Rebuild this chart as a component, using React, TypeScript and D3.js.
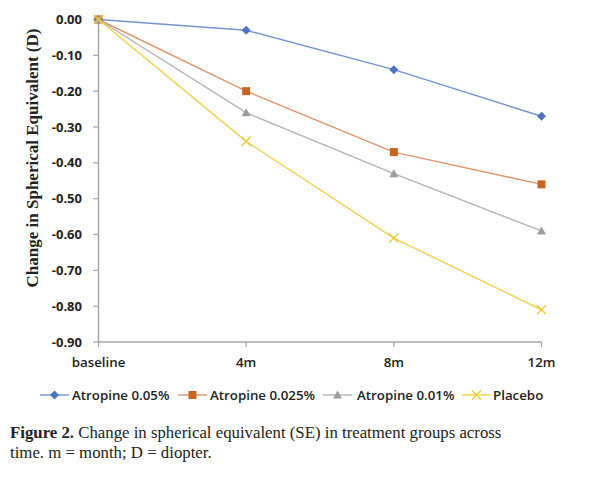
import React from "react";
import * as d3 from "d3";

const categories = ["baseline", "4m", "8m", "12m"];
const seriesNames = ["Atropine 0.05%", "Atropine 0.025%", "Atropine 0.01%", "Placebo"];
const atropine005 = [0, -0.03, -0.14, -0.27];
const atropine0025 = [0, -0.2, -0.37, -0.46];
const atropine001 = [0, -0.26, -0.43, -0.59];
const placebo = [0, -0.34, -0.61, -0.81];
const yTicks = [0, -0.1, -0.2, -0.3, -0.4, -0.5, -0.6, -0.7, -0.8, -0.9];

const lineColors = ["#7194d2", "#e0956a", "#b4b4b4", "#f0d24a"];
const markerColors = ["#4d74c2", "#c8651f", "#9c9c9c", "#ebc934"];
const markerTypes = ["diamond", "square", "triangle", "x"];

function Marker({ type, x, y, color }: { type: string; x: number; y: number; color: string }) {
  if (type === "diamond") {
    const s = 4.5;
    return <path d={`M${x},${y - s}L${x + s},${y}L${x},${y + s}L${x - s},${y}Z`} fill={color} />;
  }
  if (type === "square") {
    const s = 4;
    return <rect x={x - s} y={y - s} width={2 * s} height={2 * s} fill={color} />;
  }
  if (type === "triangle") {
    const s = 4.5;
    return <path d={`M${x},${y - s}L${x + s},${y + s * 0.8}L${x - s},${y + s * 0.8}Z`} fill={color} />;
  }
  const s = 4.5;
  return (
    <path d={`M${x - s},${y - s}L${x + s},${y + s}M${x + s},${y - s}L${x - s},${y + s}`} stroke={color} strokeWidth={1.3} fill="none" />
  );
}

export default function App() {
  const data = [atropine005, atropine0025, atropine001, placebo];
  const x = d3.scalePoint<string>().domain(categories).range([98.5, 541.5]).padding(0);
  const y = d3.scaleLinear().domain([0, -0.9]).range([19.5, 342]);
  const line = d3
    .line<number>()
    .x((_, i) => x(categories[i]) as number)
    .y((d) => y(d));
  const tickFont = "'Open Sans', 'DejaVu Sans', sans-serif";
  const axisColor = "#a6a6a6";

  const legendItems = [
    { lx: 40, tx: 72 },
    { lx: 178, tx: 210 },
    { lx: 323, tx: 357 },
    { lx: 462, tx: 493 },
  ];

  return (
    <svg width={595} height={488} style={{ position: "absolute", left: 0, top: 0, background: "#fff" }}>
      {/* axes */}
      <line x1={x("baseline")} x2={x("baseline")} y1={y(0)} y2={y(-0.9)} stroke={axisColor} strokeWidth={1.5} />
      <line x1={x("baseline")} x2={x("12m")} y1={y(-0.9)} y2={y(-0.9)} stroke={axisColor} strokeWidth={1.5} />
      {yTicks.map((t) => (
        <g key={t}>
          <line x1={93} x2={x("baseline")} y1={y(t)} y2={y(t)} stroke={axisColor} strokeWidth={1.2} />
          <text
            x={82}
            y={y(t)}
            dy="0.35em"
            textAnchor="end"
            fontFamily={tickFont}
            fontWeight={700}
            fontSize={13}
            fill="#222"
          >
            {t.toFixed(2) === "-0.00" ? "0.00" : t.toFixed(2)}
          </text>
        </g>
      ))}
      {categories.map((c) => (
        <g key={c}>
          <line x1={x(c)} x2={x(c)} y1={y(-0.9)} y2={y(-0.9) + 5} stroke={axisColor} strokeWidth={1.2} />
          <text x={x(c)} y={y(-0.9) + 25} textAnchor="middle" fontFamily={tickFont} fontWeight={600} fontSize={13.3} fill="#222">
            {c}
          </text>
        </g>
      ))}
      <text
        transform={`translate(37.5,158) rotate(-90)`}
        textAnchor="middle"
        fontFamily="'Liberation Serif', 'Times New Roman', serif"
        fontWeight={700}
        fontSize={17}
        fill="#222"
      >
        Change in Spherical Equivalent (D)
      </text>
      {/* series */}
      {data.map((vals, si) => (
        <g key={si}>
          <path d={line(vals) as string} fill="none" stroke={lineColors[si]} strokeWidth={1.4} />
          {vals.map((v, i) => (
            <Marker key={i} type={markerTypes[si]} x={x(categories[i]) as number} y={y(v)} color={markerColors[si]} />
          ))}
        </g>
      ))}
      {/* legend */}
      {legendItems.map((it, i) => (
        <g key={i}>
          <line x1={it.lx} x2={it.lx + 29} y1={395} y2={395} stroke={lineColors[i]} strokeWidth={1.4} />
          <Marker type={markerTypes[i]} x={it.lx + 14.5} y={395} color={markerColors[i]} />
          <text x={it.tx} y={395} dy="0.35em" fontFamily={tickFont} fontWeight={600} fontSize={13.3} fill="#222">
            {seriesNames[i]}
          </text>
        </g>
      ))}
      {/* caption */}
      <text x={10} y={438} fontFamily="'Liberation Serif', 'Times New Roman', serif" fontSize={16.8} fill="#222">
        <tspan fontWeight={700}>Figure 2.</tspan>
        <tspan> Change in spherical equivalent (SE) in treatment groups across</tspan>
      </text>
      <text x={10} y={458} fontFamily="'Liberation Serif', 'Times New Roman', serif" fontSize={16.8} fill="#222">
        time. m = month; D = diopter.
      </text>
    </svg>
  );
}
